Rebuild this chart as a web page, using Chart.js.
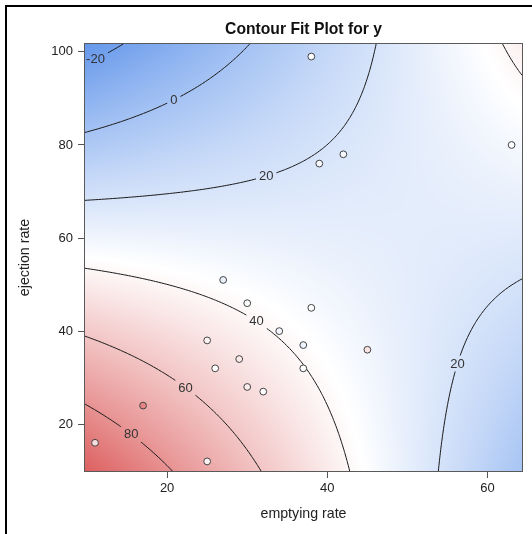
<!DOCTYPE html>
<html>
<head>
<meta charset="utf-8">
<script src="https://cdn.jsdelivr.net/npm/chart.js@4.4.1/dist/chart.umd.min.js"></script>
<style>
body { margin: 0; background: #fff; }
</style>
</head>
<body>
<canvas id="myChart" width="532" height="534"></canvas>
<script>
var emptyingRate = [11, 17, 25, 25, 26, 27, 30, 38, 34, 37, 45, 29, 37, 30, 32, 38, 42, 39, 63];
var ejectionRate = [16, 24, 12, 38, 32, 51, 46, 45, 40, 37, 36, 34, 32, 28, 27, 99, 78, 76, 80];
var observedY    = [50, 85, 42, 42, 38, 28, 35, 37, 32, 30, 48, 45, 36, 44, 38, 35, 33, 33, 36];

// fitted surface y = b0 + b1*x + b2*e + b11*x^2 + b22*e^2 + b12*x*e
// coefficients estimated from where the contour lines cross the frame
var surfaceCoef = [134.19, -2.140, -1.697, 0, 0, 0.0335];
var contourLevels = [-20, 0, 20, 40, 60, 80];

var xTicks = [20, 40, 60];
var yTicks = [20, 40, 60, 80, 100];
var xRange = [9.75, 64.3];
var yRange = [9.94, 101.7];

// where along a contour its label sits (fraction of the line length)
var labelSpot = { '-20': 0.27 };

var rampLow = [100, 151, 235], rampMid = [255, 255, 255], rampHigh = [221, 96, 96];
var FONT = '"Liberation Sans", Arial, sans-serif';

function fitValue(x, e) {
  var b = surfaceCoef;
  return b[0] + b[1]*x + b[2]*e + b[3]*x*x + b[4]*e*e + b[5]*x*e;
}

// sample the surface on a grid over the plot range
var NG = 160;
var grid = [], gMin = Infinity, gMax = -Infinity;
function gridX(i) { return xRange[0] + (xRange[1] - xRange[0]) * i / NG; }
function gridY(j) { return yRange[0] + (yRange[1] - yRange[0]) * j / NG; }
for (var i = 0; i <= NG; i++) {
  grid[i] = [];
  for (var j = 0; j <= NG; j++) {
    var v = fitValue(gridX(i), gridY(j));
    grid[i][j] = v;
    if (v < gMin) gMin = v;
    if (v > gMax) gMax = v;
  }
}

function rampColor(v) {
  var mid = (gMin + gMax) / 2, a, b, t;
  if (v < mid) { a = rampLow; b = rampMid; t = (v - gMin) / (mid - gMin); }
  else { a = rampMid; b = rampHigh; t = (v - mid) / (gMax - mid); }
  t = Math.max(0, Math.min(1, t));
  return [0, 1, 2].map(function (k) { return Math.round(a[k] + (b[k] - a[k]) * t); });
}

// marching squares, joined into polylines (data coordinates)
function tracePaths(level) {
  var pts = {}, segs = [], adj = {};
  function edge(i0, j0, i1, j1, key) {
    var v0 = grid[i0][j0], v1 = grid[i1][j1];
    if ((v0 >= level) === (v1 >= level)) return null;
    if (!pts[key]) {
      var t = (level - v0) / (v1 - v0);
      pts[key] = [gridX(i0) + (gridX(i1) - gridX(i0)) * t, gridY(j0) + (gridY(j1) - gridY(j0)) * t];
    }
    return key;
  }
  for (var i = 0; i < NG; i++) {
    for (var j = 0; j < NG; j++) {
      var bot = edge(i, j, i + 1, j, 'h' + i + '_' + j);
      var rgt = edge(i + 1, j, i + 1, j + 1, 'v' + (i + 1) + '_' + j);
      var top = edge(i, j + 1, i + 1, j + 1, 'h' + i + '_' + (j + 1));
      var lft = edge(i, j, i, j + 1, 'v' + i + '_' + j);
      var c = [bot, rgt, top, lft].filter(function (k) { return k; });
      if (c.length === 2) segs.push([c[0], c[1]]);
      else if (c.length === 4) {
        var centre = (grid[i][j] + grid[i+1][j] + grid[i+1][j+1] + grid[i][j+1]) / 4;
        if ((centre >= level) === (grid[i][j] >= level)) { segs.push([bot, rgt]); segs.push([top, lft]); }
        else { segs.push([lft, bot]); segs.push([top, rgt]); }
      }
    }
  }
  segs.forEach(function (s, k) {
    (adj[s[0]] = adj[s[0]] || []).push(k);
    (adj[s[1]] = adj[s[1]] || []).push(k);
  });
  var used = [], paths = [];
  function walk(start) {
    var keys = [start], cur = start;
    while (true) {
      var next = (adj[cur] || []).find(function (k) { return !used[k]; });
      if (next === undefined) break;
      used[next] = true;
      var s = segs[next];
      cur = s[0] === cur ? s[1] : s[0];
      keys.push(cur);
    }
    return keys.map(function (k) { return pts[k]; });
  }
  Object.keys(adj).forEach(function (k) {
    if (adj[k].length === 1 && !used[adj[k][0]]) paths.push(walk(k));
  });
  segs.forEach(function (s, k) { if (!used[k]) paths.push(walk(s[0])); });
  return paths;
}

var surfacePlugin = {
  id: 'surface',
  beforeDatasetsDraw: function (chart) {
    var ctx = chart.ctx, a = chart.chartArea, xs = chart.scales.x, ys = chart.scales.y;
    // colour map
    var L = Math.round(a.left), T = Math.round(a.top);
    var W = Math.round(a.right) - L, H = Math.round(a.bottom) - T;
    var img = ctx.createImageData(W, H);
    for (var py = 0; py < H; py++) {
      var e = ys.getValueForPixel(T + py + 0.5);
      for (var px = 0; px < W; px++) {
        var c = rampColor(fitValue(xs.getValueForPixel(L + px + 0.5), e));
        var o = (py * W + px) * 4;
        img.data[o] = c[0]; img.data[o+1] = c[1]; img.data[o+2] = c[2]; img.data[o+3] = 255;
      }
    }
    ctx.putImageData(img, L, T);

    // contour lines + labels
    ctx.save();
    ctx.font = '13px ' + FONT;
    var lines = [], labels = [];
    contourLevels.forEach(function (lev) {
      tracePaths(lev).forEach(function (path) {
        var pp = path.map(function (p) { return [xs.getPixelForValue(p[0]), ys.getPixelForValue(p[1])]; });
        lines.push(pp);
        var cum = [0];
        for (var k = 1; k < pp.length; k++) {
          cum.push(cum[k-1] + Math.hypot(pp[k][0] - pp[k-1][0], pp[k][1] - pp[k-1][1]));
        }
        var len = cum[cum.length - 1];
        if (len < 40) return;
        var target = len * (labelSpot[lev] || 0.5);
        var k2 = 1;
        while (k2 < cum.length - 1 && cum[k2] < target) k2++;
        var f = (target - cum[k2-1]) / ((cum[k2] - cum[k2-1]) || 1);
        var text = String(lev);
        labels.push({
          text: text,
          x: pp[k2-1][0] + (pp[k2][0] - pp[k2-1][0]) * f,
          y: pp[k2-1][1] + (pp[k2][1] - pp[k2-1][1]) * f,
          w: ctx.measureText(text).width
        });
      });
    });
    ctx.beginPath();
    ctx.rect(a.left, a.top, a.right - a.left, a.bottom - a.top);
    labels.forEach(function (l) { ctx.rect(l.x - l.w / 2 - 3, l.y - 8, l.w + 6, 16); });
    ctx.clip('evenodd');
    ctx.strokeStyle = '#1a1a1a';
    ctx.lineWidth = 1;
    lines.forEach(function (pp) {
      ctx.beginPath();
      ctx.moveTo(pp[0][0], pp[0][1]);
      for (var k = 1; k < pp.length; k++) ctx.lineTo(pp[k][0], pp[k][1]);
      ctx.stroke();
    });
    ctx.restore();
    ctx.save();
    ctx.font = '13px ' + FONT;
    ctx.fillStyle = '#333';
    ctx.textAlign = 'center';
    ctx.textBaseline = 'middle';
    labels.forEach(function (l) { ctx.fillText(l.text, l.x, l.y + 0.5); });
    ctx.restore();
  },
  afterDraw: function (chart) {
    var ctx = chart.ctx, a = chart.chartArea;
    ctx.save();
    ctx.strokeStyle = '#5a5a5a';
    ctx.lineWidth = 1;
    ctx.strokeRect(Math.round(a.left) - 0.5, Math.round(a.top) - 0.5,
                   Math.round(a.right - a.left) + 1, Math.round(a.bottom - a.top) + 1);
    // outer frame (only left and top edges are in the picture)
    ctx.fillStyle = '#000';
    ctx.fillRect(5, 5, 2, chart.height - 5);
    ctx.fillRect(5, 5, chart.width - 5, 2);
    // title
    ctx.font = 'bold 15.7px ' + FONT;
    ctx.fillStyle = '#111';
    ctx.textAlign = 'center';
    ctx.textBaseline = 'alphabetic';
    ctx.fillText('Contour Fit Plot for y', (a.left + a.right) / 2, 33.5);
    ctx.restore();
  }
};

var points = emptyingRate.map(function (x, k) { return { x: x, y: ejectionRate[k] }; });
var fills = observedY.map(function (v) { var c = rampColor(v); return 'rgb(' + c.join(',') + ')'; });

var ctx = document.getElementById('myChart');
var myChart = new Chart(ctx, {
  type: 'scatter',
  data: {
    datasets: [{
      data: points,
      pointRadius: 3.4,
      pointBackgroundColor: fills,
      pointBorderColor: '#444',
      pointBorderWidth: 1
    }]
  },
  options: {
    responsive: false,
    animation: false,
    layout: { padding: { left: 10, right: 10, top: 44, bottom: 0 } },
    plugins: { legend: { display: false }, tooltip: { enabled: false } },
    scales: {
      x: {
        type: 'linear', min: xRange[0], max: xRange[1],
        afterBuildTicks: function (s) { s.ticks = xTicks.map(function (v) { return { value: v }; }); },
        afterFit: function (s) { s.height = 63; },
        grid: { drawOnChartArea: false, drawTicks: true, tickLength: 7, color: '#555' },
        border: { display: false },
        ticks: { font: { size: 13, family: FONT }, color: '#222', padding: 3, maxRotation: 0 },
        title: { display: true, text: 'emptying rate', font: { size: 14.2, family: FONT }, color: '#222', padding: { top: 0, bottom: 11 } }
      },
      y: {
        type: 'linear', min: yRange[0], max: yRange[1],
        afterBuildTicks: function (s) { s.ticks = yTicks.map(function (v) { return { value: v }; }); },
        afterFit: function (s) { s.width = 75; },
        grid: { drawOnChartArea: false, drawTicks: true, tickLength: 7, color: '#555' },
        border: { display: false },
        ticks: { font: { size: 13, family: FONT }, color: '#222', padding: 5 },
        title: { display: true, text: 'ejection rate', font: { size: 14.2, family: FONT }, color: '#222', padding: { top: 7, bottom: 0 } }
      }
    }
  },
  plugins: [surfacePlugin]
});
</script>
</body>
</html>
